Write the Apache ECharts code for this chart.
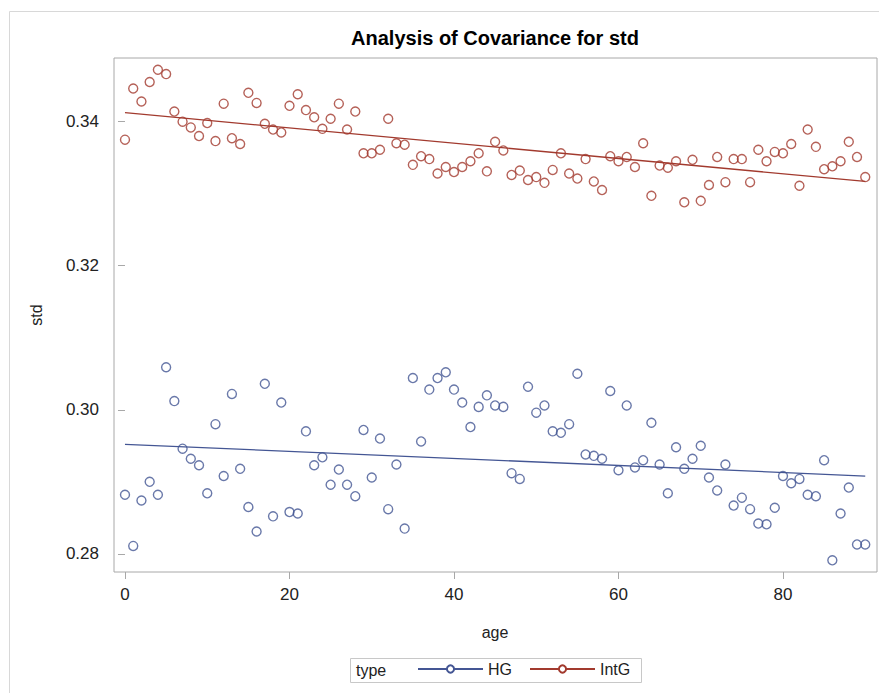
<!DOCTYPE html>
<html>
<head>
<meta charset="utf-8">
<script src="https://cdn.jsdelivr.net/npm/echarts@6/dist/echarts.min.js"></script>
<style>
html,body{margin:0;padding:0;background:#fff;}
#chart{width:879px;height:693px;}
</style>
</head>
<body>
<div id="chart"></div>
<script>
const titleText = "Analysis of Covariance for std";
const xName = "age";
const yName = "std";
const legendTitle = "type";
const groups = ["HG", "IntG"];
const ages = [0,1,2,3,4,5,6,7,8,9,10,11,12,13,14,15,16,17,18,19,20,21,22,23,24,25,26,27,28,29,30,31,32,33,34,35,36,37,38,39,40,41,42,43,44,45,46,47,48,49,50,51,52,53,54,55,56,57,58,59,60,61,62,63,64,65,66,67,68,69,70,71,72,73,74,75,76,77,78,79,80,81,82,83,84,85,86,87,88,89,90];
const hgStd = [0.2882,0.2811,0.2874,0.2900,0.2882,0.3059,0.3012,0.2946,0.2932,0.2923,
0.2884,0.2980,0.2908,0.3022,0.2918,0.2865,0.2831,0.3036,0.2852,0.3010,
0.2858,0.2856,0.2970,0.2923,0.2934,0.2896,0.2917,0.2896,0.2880,0.2972,
0.2906,0.2960,0.2862,0.2924,0.2835,0.3044,0.2956,0.3028,0.3044,0.3052,
0.3028,0.3010,0.2976,0.3004,0.3020,0.3006,0.3004,0.2912,0.2904,0.3032,
0.2996,0.3006,0.2970,0.2968,0.2980,0.3050,0.2938,0.2936,0.2932,0.3026,
0.2916,0.3006,0.2920,0.2930,0.2982,0.2924,0.2884,0.2948,0.2918,0.2932,
0.2950,0.2906,0.2888,0.2924,0.2867,0.2878,0.2862,0.2842,0.2841,0.2864,
0.2908,0.2898,0.2904,0.2882,0.2880,0.2930,0.2791,0.2856,0.2892,0.2813,0.2813];
const intgStd = [0.3375,0.3446,0.3428,0.3455,0.3472,0.3466,0.3414,0.3400,0.3392,0.3380,
0.3398,0.3373,0.3425,0.3377,0.3369,0.3440,0.3426,0.3397,0.3389,0.3385,
0.3422,0.3438,0.3416,0.3406,0.3390,0.3404,0.3425,0.3389,0.3414,0.3356,
0.3356,0.3361,0.3404,0.3370,0.3368,0.3340,0.3352,0.3348,0.3328,0.3337,
0.3330,0.3337,0.3345,0.3356,0.3331,0.3372,0.3360,0.3326,0.3332,0.3319,
0.3323,0.3315,0.3333,0.3356,0.3328,0.3321,0.3348,0.3317,0.3305,0.3352,
0.3345,0.3351,0.3337,0.3370,0.3297,0.3339,0.3336,0.3345,0.3288,0.3347,
0.3290,0.3312,0.3351,0.3316,0.3348,0.3348,0.3316,0.3361,0.3345,0.3358,
0.3356,0.3369,0.3311,0.3389,0.3365,0.3334,0.3338,0.3345,0.3372,0.3351,0.3323];
const fitAges = [0, 90];
const hgFit = [0.2952, 0.2908];
const intgFit = [0.34125, 0.3317];
const xTicks = [0, 20, 40, 60, 80];
const yTicks = [0.28, 0.30, 0.32, 0.34];

const colors = {HG: "#445694", IntG: "#A23A2E"};
const FONT = "'Liberation Sans', Arial, sans-serif";
const pairs = (xs, ys) => xs.map((x, i) => [x, ys[i]]);

const chart = echarts.init(document.getElementById('chart'), null, {renderer: 'svg'});
const gridL = 114, gridT = 58, gridW = 763, gridH = 514;

const option = {
  backgroundColor: '#fff',
  animation: false,
  grid: {left: gridL, top: gridT, width: gridW, height: gridH, show: true, borderColor: '#a8a8a8', borderWidth: 1, backgroundColor: 'transparent'},
  xAxis: {
    type: 'value', min: -1.337, max: 91.43,
    axisLine: {show: false},
    splitLine: {show: false},
    axisTick: {show: true, length: 7, inside: false, lineStyle: {color: '#a8a8a8'}, customValues: xTicks},
    axisLabel: {customValues: xTicks, margin: 14, fontSize: 17, fontFamily: FONT, color: '#222'}
  },
  yAxis: {
    type: 'value', min: 0.277476, max: 0.348835,
    axisLine: {show: false},
    splitLine: {show: false},
    axisTick: {show: true, length: 7, inside: false, lineStyle: {color: '#a8a8a8'}, customValues: yTicks},
    axisLabel: {customValues: yTicks, margin: 15, fontSize: 17, fontFamily: FONT, color: '#222',
      formatter: v => v.toFixed(2)}
  },
  legend: {
    data: groups,
    left: 417, top: 661, padding: 0,
    itemWidth: 65, itemHeight: 9, itemGap: 17,
    textStyle: {fontSize: 16, fontFamily: FONT, color: '#222'},
    selectedMode: false
  },
  graphic: [
    {type: 'rect', shape: {x: 9.5, y: 11.5, width: 900, height: 700}, style: {fill: 'none', stroke: '#d8d8d8', lineWidth: 1}, silent: true, z: -1},
    {type: 'text', x: 495, y: 38, style: {text: titleText, font: "bold 20px " + FONT, fill: '#000', textAlign: 'center', textVerticalAlign: 'middle'}},
    {type: 'text', x: 36, y: 315, rotation: Math.PI / 2, style: {text: yName, font: "16px " + FONT, fill: '#222', textAlign: 'center', textVerticalAlign: 'middle'}},
    {type: 'text', x: 495, y: 632, style: {text: xName, font: "16px " + FONT, fill: '#222', textAlign: 'center', textVerticalAlign: 'middle'}},
    {type: 'rect', shape: {x: 350.5, y: 658.5, width: 291, height: 24}, style: {fill: 'none', stroke: '#c8c8c8', lineWidth: 1}},
    {type: 'text', x: 356, y: 670.5, style: {text: legendTitle, font: "16px " + FONT, fill: '#222', textAlign: 'left', textVerticalAlign: 'middle'}}
  ],
  series: [
    {name: 'HG', type: 'line', data: pairs(fitAges, hgFit), symbol: 'emptyCircle', showSymbol: false,
      lineStyle: {color: colors.HG, width: 1.3}, itemStyle: {color: colors.HG}, z: 2},
    {name: 'IntG', type: 'line', data: pairs(fitAges, intgFit), symbol: 'emptyCircle', showSymbol: false,
      lineStyle: {color: colors.IntG, width: 1.3}, itemStyle: {color: colors.IntG}, z: 2},
    {name: 'HG', type: 'scatter', data: pairs(ages, hgStd), symbol: 'circle', symbolSize: 9,
      itemStyle: {color: 'rgba(255,255,255,0)', borderColor: colors.HG, borderWidth: 1.4}, z: 3},
    {name: 'IntG', type: 'scatter', data: pairs(ages, intgStd), symbol: 'circle', symbolSize: 9,
      itemStyle: {color: 'rgba(255,255,255,0)', borderColor: colors.IntG, borderWidth: 1.4}, z: 3}
  ]
};
chart.setOption(option);
</script>
</body>
</html>
